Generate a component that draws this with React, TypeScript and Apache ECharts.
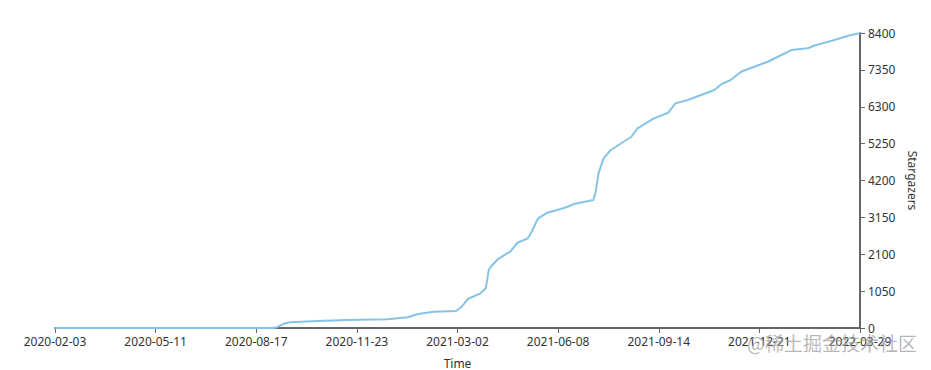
import React, { useEffect, useRef } from "react";
import * as echarts from "echarts";

const startDate = "2020-02-03";
const endDate = "2022-03-29";

const dates = [
  "2020-02-03", "2020-09-03", "2020-09-07", "2020-09-13", "2020-09-19", "2020-10-16",
  "2020-11-14", "2020-12-23", "2021-01-12", "2021-01-22", "2021-02-06", "2021-02-28",
  "2021-03-05", "2021-03-12", "2021-03-24", "2021-03-29", "2021-04-01", "2021-04-03",
  "2021-04-10", "2021-04-19", "2021-04-22", "2021-04-29", "2021-05-09", "2021-05-12",
  "2021-05-19", "2021-05-28", "2021-06-10", "2021-06-17", "2021-06-23", "2021-07-12",
  "2021-07-14", "2021-07-17", "2021-07-22", "2021-07-29", "2021-08-18", "2021-08-24",
  "2021-09-09", "2021-09-23", "2021-09-30", "2021-10-12", "2021-11-07", "2021-11-14",
  "2021-11-23", "2021-12-03", "2021-12-16", "2021-12-29", "2022-01-08", "2022-01-21",
  "2022-02-06", "2022-02-12", "2022-03-04", "2022-03-20", "2022-03-29",
];

const stars = [
  0, 0, 30, 120, 165, 200,
  228, 248, 305, 400, 464, 484,
  590, 834, 988, 1130, 1650, 1745,
  1964, 2127, 2172, 2428, 2554, 2696,
  3117, 3283, 3388, 3453, 3530, 3644,
  3835, 4404, 4831, 5068, 5446, 5685,
  5970, 6130, 6397, 6491, 6776, 6947,
  7061, 7297, 7440, 7582, 7724, 7915,
  7963, 8037, 8199, 8342, 8390,
];

const xTickLabels = [
  "2020-02-03", "2020-05-11", "2020-08-17", "2020-11-23", "2021-03-02",
  "2021-06-08", "2021-09-14", "2021-12-21", "2022-03-29",
];

const yTicks = [0, 1050, 2100, 3150, 4200, 5250, 6300, 7350, 8400];

const DAY = 86400000;
const toDays = (s: string) => (Date.parse(s + "T00:00:00Z") - Date.parse(startDate + "T00:00:00Z")) / DAY;

export default function App() {
  const ref = useRef<HTMLDivElement>(null);
  useEffect(() => {
    if (!ref.current) return;
    const chart = echarts.init(ref.current, undefined, { renderer: "svg" });
    const totalDays = toDays(endDate);
    const xInterval = totalDays / (xTickLabels.length - 1);
    const data = dates.map((d, i) => [toDays(d), stars[i]]);
    chart.setOption({
      animation: false,
      backgroundColor: "#ffffff",
      grid: { left: 55, right: 71, top: 33, bottom: 42, containLabel: false, outerBoundsMode: "none" },
      xAxis: {
        type: "value",
        min: 0,
        max: totalDays,
        interval: xInterval,
        name: "Time",
        nameLocation: "middle",
        nameGap: 29,
        nameTextStyle: { color: "#333", fontSize: 12, fontFamily: "Noto Sans" },
        axisLine: { show: true, onZero: false, lineStyle: { color: "#666", width: 2 } },
        axisTick: { show: true, length: 5, lineStyle: { color: "#666", width: 1 } },
        axisLabel: {
          color: "#333",
          fontSize: 12,
          fontFamily: "Noto Sans",
          margin: 7,
          showMinLabel: true,
          showMaxLabel: true,
          hideOverlap: false,
          formatter: (v: number) => xTickLabels[Math.round(v / xInterval)] ?? "",
        },
        splitLine: { show: false },
      },
      yAxis: {
        type: "value",
        position: "right",
        min: yTicks[0],
        max: yTicks[yTicks.length - 1],
        interval: yTicks[1] - yTicks[0],
        name: "Stargazers",
        nameLocation: "middle",
        nameRotate: -90,
        nameGap: 46,
        nameTextStyle: { color: "#333", fontSize: 12, fontFamily: "Noto Sans" },
        axisLine: { show: true, onZero: false, lineStyle: { color: "#666", width: 2 } },
        axisTick: { show: true, length: 5, lineStyle: { color: "#666", width: 1 } },
        axisLabel: {
          color: "#333",
          fontSize: 12,
          fontFamily: "Noto Sans",
          margin: 8,
          formatter: (v: number) => String(v),
        },
        splitLine: { show: false },
      },
      series: [
        {
          type: "line",
          data,
          showSymbol: false,
          symbol: "none",
          lineStyle: { color: "#86c4e6", width: 2 },
          z: 1,
        },
      ],
      graphic: [
        {
          type: "text",
          right: 14,
          top: 333,
          z: 100,
          style: {
            text: "@稀土掘金技术社区",
            fill: "rgba(160,160,160,0.75)",
            font: "19px 'Noto Sans CJK SC'",
          },
        },
      ],
    });
    return () => chart.dispose();
  }, []);
  return (
    <div
      ref={ref}
      style={{ position: "absolute", left: 0, top: 0, width: 931, height: 370 }}
    />
  );
}
